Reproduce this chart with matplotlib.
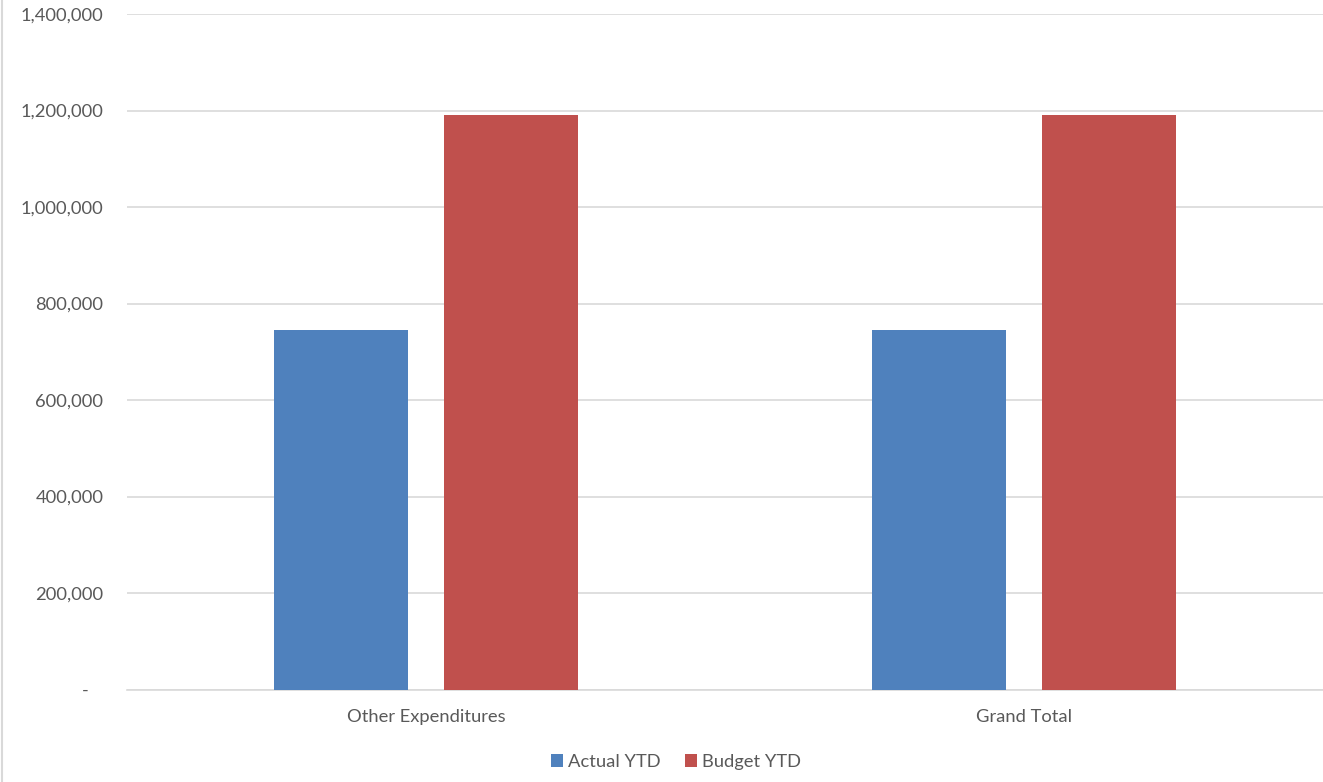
import matplotlib.pyplot as plt
import matplotlib.lines as mlines
import numpy as np
from matplotlib.ticker import FuncFormatter

categories = ['Other Expenditures', 'Grand Total']
actual_ytd = [745000, 745000]
budget_ytd = [1190000, 1190000]

plt.rcParams['font.family'] = ['Lato', 'DejaVu Sans']
text_col = '#595959'
fs = 13.2

fig = plt.figure(figsize=(13.23, 7.82), dpi=100)
ax = fig.add_axes([127 / 1323, 1 - 689.5 / 782, 1 - 127 / 1323, (689.5 - 14) / 782])

x = np.arange(len(categories))
w = 0.224
gap = 0.06
ax.bar(x - (w + gap) / 2, actual_ytd, w, color='#4F81BD', label='Actual YTD', zorder=3)
ax.bar(x + (w + gap) / 2, budget_ytd, w, color='#C0504D', label='Budget YTD', zorder=3)

ax.set_xlim(-0.5, len(categories) - 0.5)
ax.set_ylim(0, 1400000)
ax.set_yticks(np.arange(0, 1400001, 200000))
ax.yaxis.set_major_formatter(FuncFormatter(lambda v, p: '-   ' if v == 0 else f'{int(v):,}'))
ax.set_xticks(x)
ax.set_xticklabels(categories)
ax.grid(axis='y', color='#d9d9d9', linewidth=1.2, zorder=0)
for s in ['top', 'right', 'left']:
    ax.spines[s].set_visible(False)
ax.spines['bottom'].set_color('#d9d9d9')
ax.spines['bottom'].set_linewidth(1.2)
ax.tick_params(axis='both', length=0, labelsize=fs, labelcolor=text_col)
ax.tick_params(axis='y', pad=17)
ax.tick_params(axis='x', pad=14)

fig.legend(loc='center', bbox_to_anchor=(676 / 1323, 1 - 762 / 782), ncol=2, frameon=False,
           fontsize=fs, labelcolor=text_col, handlelength=0.65, handleheight=0.65,
           handletextpad=0.3, columnspacing=1.3)

# chart area border on the left
fig.add_artist(mlines.Line2D([1.5 / 1323, 1.5 / 1323], [0, 1], color='#d9d9d9', linewidth=1.5))

fig.savefig('out.png', dpi=100)
